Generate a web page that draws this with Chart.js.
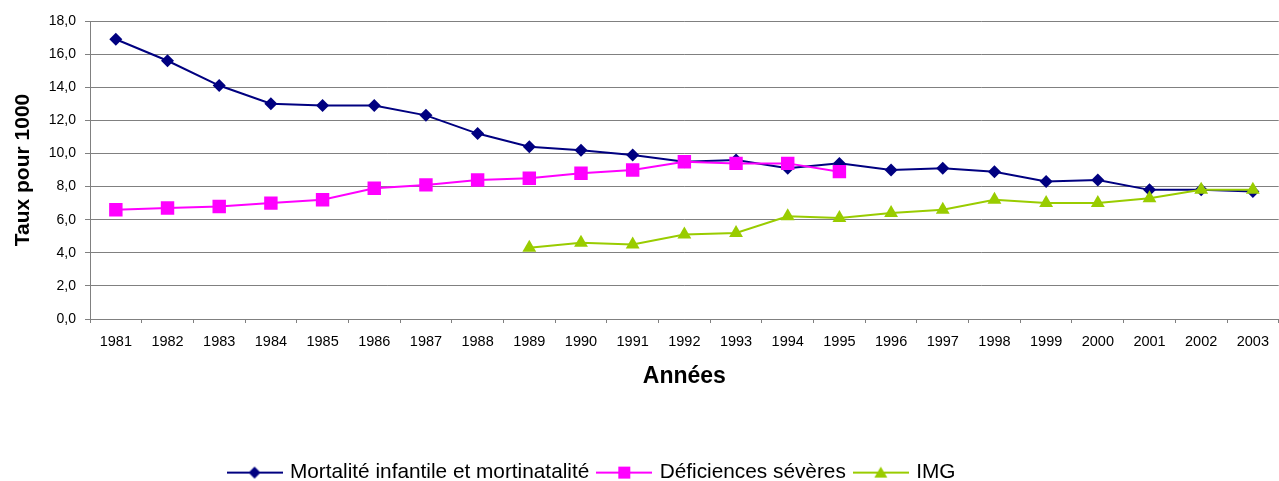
<!DOCTYPE html>
<html>
<head>
<meta charset="utf-8">
<script src="https://cdn.jsdelivr.net/npm/chart.js@4"></script>
<style>
  html, body { margin: 0; padding: 0; background: #fff; }
  #wrap { width: 1279px; height: 481px; }
</style>
</head>
<body>
<div id="wrap"><canvas id="chart" width="1279" height="481"></canvas></div>
<script>
/* -------------------- data -------------------- */
const YEARS = ['1981','1982','1983','1984','1985','1986','1987','1988','1989','1990','1991','1992',
               '1993','1994','1995','1996','1997','1998','1999','2000','2001','2002','2003'];

const MORTALITE = [16.9, 15.6, 14.1, 13.0, 12.9, 12.9, 12.3, 11.2, 10.4, 10.2, 9.9, 9.5,
                   9.6, 9.1, 9.4, 9.0, 9.1, 8.9, 8.3, 8.4, 7.8, 7.8, 7.7];

const DEFICIENCES = [6.6, 6.7, 6.8, 7.0, 7.2, 7.9, 8.1, 8.4, 8.5, 8.8, 9.0, 9.5,
                     9.4, 9.4, 8.9, null, null, null, null, null, null, null, null];

const IMG = [null, null, null, null, null, null, null, null, 4.3, 4.6, 4.5, 5.1,
             5.2, 6.2, 6.1, 6.4, 6.6, 7.2, 7.0, 7.0, 7.3, 7.8, 7.8];

const LABELS = ['Mortalité infantile et mortinatalité', 'Déficiences sévères', 'IMG'];

/* -------------------- styles -------------------- */
const COLORS = { mort: '#000080', def: '#FF00FF', img: '#99CC00' };
const FONT = '"Liberation Sans", Arial, sans-serif';

// legend swatch: a line with the marker in the middle
function swatch(color, shape) {
  const c = document.createElement('canvas');
  c.width = 56; c.height = 16;
  const g = c.getContext('2d');
  g.strokeStyle = color; g.lineWidth = 2;
  g.beginPath(); g.moveTo(0, 8); g.lineTo(56, 8); g.stroke();
  g.fillStyle = color;
  g.beginPath();
  if (shape === 'diamond') {
    g.moveTo(28, 2); g.lineTo(34, 8); g.lineTo(28, 14); g.lineTo(22, 8);
  } else if (shape === 'square') {
    g.rect(22, 2, 12, 12);
  } else {
    g.moveTo(28, 2); g.lineTo(34.5, 13); g.lineTo(21.5, 13);
  }
  g.closePath(); g.fill();
  return c;
}
const SWATCHES = [swatch(COLORS.mort, 'diamond'), swatch(COLORS.def, 'square'), swatch(COLORS.img, 'triangle')];

// order: later series are drawn on top, as in the original
function series(label, data, color, style, radius, order) {
  return {
    label,
    data,
    order,
    borderColor: color,
    backgroundColor: color,
    borderWidth: 2,
    pointStyle: style,
    pointRadius: radius,
    pointHoverRadius: radius,
    pointBorderWidth: 0,
    tension: 0,
    spanGaps: false
  };
}

// move the legend left and down like the original
const legendShift = {
  id: 'legendShift',
  afterLayout(chart) {
    const lg = chart.legend;
    lg.left -= 47; lg.right -= 47;
    lg.top += 12; lg.bottom += 12;
  }
};

new Chart(document.getElementById('chart').getContext('2d'), {
  type: 'line',
  data: {
    labels: YEARS,
    datasets: [
      series(LABELS[0], MORTALITE, COLORS.mort, 'rectRot', 6.5, 2),
      series(LABELS[1], DEFICIENCES, COLORS.def, 'rect', 9.5, 1),
      series(LABELS[2], IMG, COLORS.img, 'triangle', 8, 0)
    ]
  },
  options: {
    responsive: false,
    animation: false,
    layout: { autoPadding: false, padding: { left: 0, right: 0, top: 21, bottom: 0 } },
    plugins: {
      legend: {
        position: 'bottom',
        labels: {
          color: '#000',
          font: { family: FONT, size: 20.8 },
          usePointStyle: true,
          pointStyleWidth: 50,
          padding: 10,
          generateLabels: (chart) => chart.data.datasets.map((ds, i) => ({
            text: ds.label,
            pointStyle: SWATCHES[i],
            fillStyle: ds.backgroundColor,
            strokeStyle: ds.borderColor,
            lineWidth: 0,
            datasetIndex: i,
            hidden: false,
            fontColor: '#000'
          }))
        }
      },
      tooltip: { enabled: false }
    },
    scales: {
      x: {
        offset: true,
        grid: {
          offset: true,
          drawOnChartArea: false,
          drawTicks: true,
          tickLength: 4,
          color: '#808080'
        },
        border: { color: '#808080', width: 1 },
        ticks: {
          color: '#000',
          font: { family: FONT, size: 14.5 },
          padding: 10,
          maxRotation: 0,
          autoSkip: false
        },
        title: {
          display: true,
          text: 'Années',
          color: '#000',
          font: { family: FONT, size: 23, weight: 'bold' },
          padding: { top: 10, bottom: 50 }
        },
        afterFit: (scale) => {
          scale.height = scale.chart.height - 319 - scale.chart.legend.height;
        }
      },
      y: {
        min: 0,
        max: 18,
        grid: {
          color: '#808080',
          tickLength: 5,
          lineWidth: 1
        },
        border: { color: '#808080', width: 1 },
        ticks: {
          stepSize: 2,
          color: '#000',
          font: { family: FONT, size: 14 },
          padding: 9,
          callback: (v) => v.toFixed(1).replace('.', ',')
        },
        title: {
          display: true,
          text: 'Taux pour 1000',
          color: '#000',
          font: { family: FONT, size: 21, weight: 'bold' },
          padding: { top: 11, bottom: 10 }
        },
        afterFit: (scale) => { scale.width = 90; }
      }
    }
  },
  plugins: [legendShift]
});
</script>
</body>
</html>
